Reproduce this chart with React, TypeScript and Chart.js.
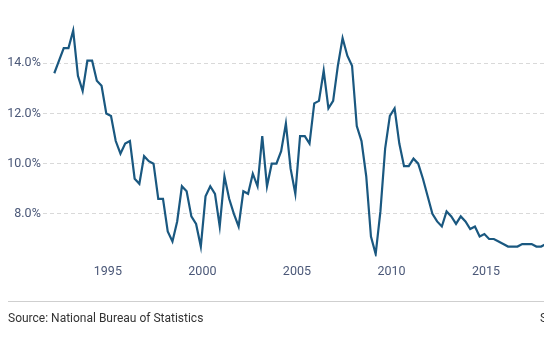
import React, { useEffect, useRef } from "react";
import { Chart, registerables } from "chart.js";

Chart.register(...registerables);

const startYear = 1992;
const growth: number[] = [
  13.6, 14.1, 14.6, 14.6,
  15.3, 13.5, 12.9, 14.1,
  14.1, 13.3, 13.1, 12.0,
  11.9, 10.9, 10.4, 10.8,
  10.9, 9.4, 9.2, 10.3,
  10.1, 10.0, 8.6, 8.6,
  7.3, 6.9, 7.7, 9.1,
  8.9, 7.9, 7.6, 6.7,
  8.7, 9.1, 8.8, 7.5,
  9.5, 8.6, 8.0, 7.5,
  8.9, 8.8, 9.6, 9.1,
  11.1, 9.1, 10.0, 10.0,
  10.5, 11.6, 9.8, 8.8,
  11.1, 11.1, 10.8, 12.4,
  12.5, 13.7, 12.2, 12.5,
  13.9, 15.0, 14.3, 13.9,
  11.5, 10.9, 9.5, 7.1,
  6.4, 8.1, 10.6, 11.9,
  12.2, 10.8, 9.9, 9.9,
  10.2, 10.0, 9.4, 8.7,
  8.0, 7.7, 7.5, 8.1,
  7.9, 7.6, 7.9, 7.7,
  7.4, 7.5, 7.1, 7.2,
  7.0, 7.0, 6.9, 6.8,
  6.7, 6.7, 6.7, 6.8,
  6.8, 6.8, 6.7, 6.7,
  6.8,
];
const quarterLabels: string[] = growth.map(
  (_, i) => `${startYear + Math.floor(i / 4)} Q${(i % 4) + 1}`
);
const yearTicks: number[] = [1995, 2000, 2005, 2010, 2015];
const pctTicks: number[] = [8, 10, 12, 14];
const sourceText = "Source: National Bureau of Statistics";

function labelToX(label: string): number {
  const [y, q] = label.split(" Q");
  // quarter plotted at its last month (Mar, Jun, Sep, Dec)
  return Number(y) + (Number(q) * 3 - 1) / 12;
}

export default function App() {
  const ref = useRef<HTMLCanvasElement | null>(null);

  useEffect(() => {
    document.documentElement.style.overflow = "hidden";
    document.body.style.overflow = "hidden";
    if (!ref.current) return;
    const points = quarterLabels.map((l, i) => ({ x: labelToX(l), y: growth[i] }));
    const tickColor = "#4b5878";
    const chart = new Chart(ref.current, {
      type: "line",
      data: {
        datasets: [
          {
            label: "GDP growth",
            data: points,
            borderColor: "#1a5880",
            borderWidth: 2.2,
            pointRadius: 0,
            tension: 0,
            fill: false,
          },
        ],
      },
      options: {
        animation: false,
        responsive: false,
        maintainAspectRatio: false,
        layout: { padding: { top: 0, right: 0, bottom: 0, left: 0 } },
        plugins: {
          legend: { display: false },
          tooltip: { enabled: false },
        },
        scales: {
          x: {
            type: "linear",
            min: 1991.585,
            max: 2018.07,
            grid: { display: false, drawTicks: false },
            border: { display: false },
            afterBuildTicks: (s: any) => {
              s.ticks = yearTicks.map((v) => ({ value: v }));
            },
            afterFit: (s: any) => {
              s.height = 31.4;
            },
            ticks: {
              padding: 8,
              color: tickColor,
              font: { family: "Roboto", size: 12.5 },
              maxRotation: 0,
              callback: (v: any) => String(v),
            },
          },
          y: {
            min: 6.3,
            max: 15.8,
            grid: {
              color: "#d9d9d9",
              drawTicks: false,
              lineWidth: 1,
            },
            border: { display: true, width: 0, color: "rgba(0,0,0,0)", dash: [4, 3] },
            afterBuildTicks: (s: any) => {
              s.ticks = pctTicks.map((v) => ({ value: v }));
            },
            afterFit: (s: any) => {
              s.width = 35.3;
            },
            ticks: {
              padding: 2.5,
              color: tickColor,
              font: { family: "Roboto", size: 12.5 },
              callback: (v: any) => Number(v).toFixed(1) + "%",
            },
          },
        },
      } as any,
    });
    return () => chart.destroy();
  }, []);

  return (
    <div
      style={{
        position: "fixed",
        left: 8,
        top: 8,
        width: 536,
        fontFamily: "Roboto, sans-serif",
      }}
    >
      <canvas ref={ref} width={536} height={280} style={{ display: "block", width: 536, height: 280 }} />
      <div
        style={{
          position: "relative",
          marginTop: 13,
          borderTop: "1px solid #cfcfcf",
          height: 26,
          overflow: "hidden",
          width: 536,
        }}
      >
        <span
          style={{
            position: "absolute",
            left: 0,
            top: 9,
            fontSize: 12,
            color: "#333",
            whiteSpace: "nowrap",
          }}
        >
          {sourceText}
        </span>
        <span
          style={{
            position: "absolute",
            left: 532,
            top: 9,
            fontSize: 12,
            color: "#333",
            whiteSpace: "nowrap",
          }}
        >
          SCMP
        </span>
      </div>
    </div>
  );
}
